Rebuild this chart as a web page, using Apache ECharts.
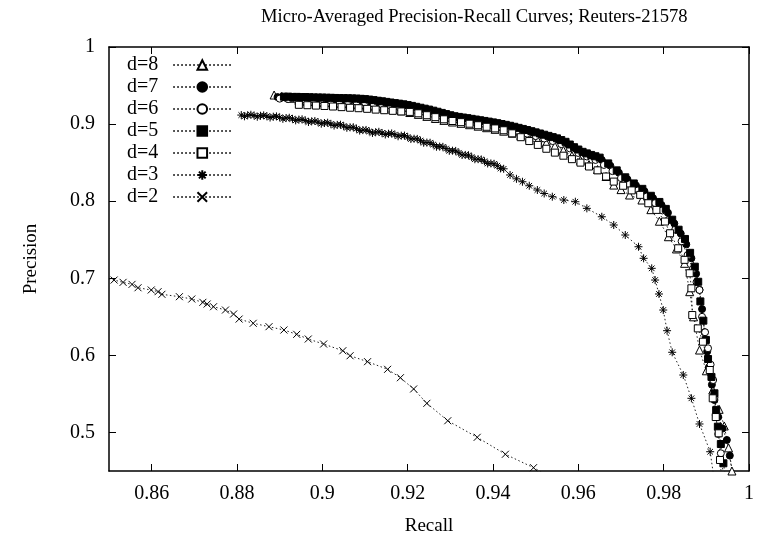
<!DOCTYPE html>
<html><head><meta charset="utf-8">
<script src="https://cdn.jsdelivr.net/npm/echarts@6/dist/echarts.min.js"></script>
<style>html,body{margin:0;padding:0;background:#fff}#c{width:757px;height:541px}</style>
</head><body><div id="c"></div>
<script>
const titleText = 'Micro-Averaged Precision-Recall Curves; Reuters-21578';
const xName = 'Recall';
const yName = 'Precision';
const xTicks = [0.86, 0.88, 0.9, 0.92, 0.94, 0.96, 0.98, 1];
const yTicks = [0.5, 0.6, 0.7, 0.8, 0.9, 1];
const seriesNames = ['d=8', 'd=7', 'd=6', 'd=5', 'd=4', 'd=3', 'd=2'];

const d8 = [[0.8887,0.9377],[0.8905,0.9360],[0.8925,0.9335],[0.8945,0.9310],[0.8965,0.9295],[0.8985,0.9285],[0.9005,0.9278],[0.9025,0.9272],[0.9045,0.9266],[0.9065,0.9258],[0.9085,0.9248],[0.9105,0.9236],[0.9125,0.9222],[0.9145,0.9207],[0.9165,0.9190],[0.9185,0.9172],[0.9205,0.9150],[0.9225,0.9126],[0.9245,0.9100],[0.9265,0.9073],[0.9285,0.9048],[0.9305,0.9027],[0.9325,0.9010],[0.9345,0.8992],[0.9365,0.8973],[0.9385,0.8953],[0.9405,0.8932],[0.9425,0.8908],[0.9445,0.8882],[0.9465,0.8854],[0.9485,0.8823],[0.9505,0.8790],[0.9525,0.8755],[0.9545,0.8715],[0.9565,0.8660],[0.9585,0.8590],[0.9605,0.8530],[0.9625,0.8475],[0.9645,0.8410],[0.9665,0.8320],[0.9683,0.8209],[0.9700,0.8150],[0.9720,0.8080],[0.9749,0.8015],[0.9770,0.7890],[0.9790,0.7740],[0.9811,0.7539],[0.9830,0.7380],[0.9849,0.7194],[0.9861,0.6826],[0.9870,0.6500],[0.9884,0.6069],[0.9900,0.5800],[0.9915,0.5550],[0.9930,0.5300],[0.9942,0.5084],[0.9952,0.4800],[0.9960,0.4500],[0.9965,0.4400]];

const d7 = [[0.8895,0.9350],[0.8905,0.9345],[0.8915,0.9340],[0.8925,0.9338],[0.8935,0.9336],[0.8945,0.9334],[0.8955,0.9333],[0.8965,0.9331],[0.8975,0.9330],[0.8985,0.9328],[0.8995,0.9327],[0.9005,0.9325],[0.9015,0.9323],[0.9025,0.9322],[0.9035,0.9320],[0.9045,0.9318],[0.9055,0.9316],[0.9065,0.9314],[0.9075,0.9311],[0.9085,0.9307],[0.9095,0.9303],[0.9105,0.9297],[0.9115,0.9291],[0.9125,0.9284],[0.9135,0.9277],[0.9145,0.9270],[0.9155,0.9262],[0.9165,0.9254],[0.9175,0.9246],[0.9185,0.9238],[0.9195,0.9230],[0.9205,0.9219],[0.9215,0.9208],[0.9225,0.9197],[0.9235,0.9185],[0.9245,0.9173],[0.9255,0.9160],[0.9265,0.9146],[0.9275,0.9132],[0.9285,0.9118],[0.9295,0.9105],[0.9305,0.9094],[0.9315,0.9083],[0.9325,0.9075],[0.9335,0.9066],[0.9345,0.9057],[0.9355,0.9048],[0.9365,0.9039],[0.9375,0.9030],[0.9385,0.9020],[0.9395,0.9010],[0.9405,0.9000],[0.9415,0.8990],[0.9425,0.8979],[0.9435,0.8968],[0.9445,0.8956],[0.9455,0.8943],[0.9465,0.8929],[0.9475,0.8915],[0.9485,0.8901],[0.9495,0.8886],[0.9505,0.8871],[0.9515,0.8855],[0.9525,0.8839],[0.9535,0.8823],[0.9545,0.8806],[0.9555,0.8788],[0.9565,0.8765],[0.9575,0.8740],[0.9585,0.8708],[0.9595,0.8675],[0.9605,0.8648],[0.9615,0.8620],[0.9625,0.8600],[0.9635,0.8580],[0.9645,0.8558],[0.9655,0.8535],[0.9675,0.8460],[0.9695,0.8370],[0.9715,0.8285],[0.9735,0.8205],[0.9755,0.8130],[0.9775,0.8040],[0.9795,0.7950],[0.9810,0.7850],[0.9825,0.7710],[0.9840,0.7580],[0.9853,0.7440],[0.9865,0.7260],[0.9876,0.7060],[0.9884,0.6850],[0.9890,0.6600],[0.9896,0.6300],[0.9902,0.6050],[0.9906,0.5845],[0.9913,0.5620],[0.9919,0.5421],[0.9928,0.5200],[0.9938,0.5050],[0.9948,0.4902],[0.9955,0.4700],[0.9962,0.4450]];

const d6 = [[0.8900,0.9330],[0.8920,0.9325],[0.8940,0.9320],[0.8960,0.9316],[0.8980,0.9312],[0.9000,0.9308],[0.9020,0.9304],[0.9040,0.9300],[0.9060,0.9296],[0.9080,0.9290],[0.9100,0.9280],[0.9120,0.9266],[0.9140,0.9251],[0.9160,0.9236],[0.9180,0.9220],[0.9200,0.9203],[0.9220,0.9180],[0.9240,0.9156],[0.9260,0.9130],[0.9280,0.9102],[0.9300,0.9076],[0.9320,0.9055],[0.9340,0.9037],[0.9360,0.9019],[0.9380,0.9000],[0.9400,0.8980],[0.9420,0.8958],[0.9440,0.8933],[0.9460,0.8905],[0.9480,0.8876],[0.9500,0.8845],[0.9520,0.8813],[0.9540,0.8780],[0.9560,0.8740],[0.9580,0.8685],[0.9600,0.8625],[0.9620,0.8580],[0.9640,0.8535],[0.9660,0.8470],[0.9680,0.8390],[0.9700,0.8300],[0.9720,0.8220],[0.9740,0.8140],[0.9760,0.8060],[0.9780,0.7975],[0.9797,0.7880],[0.9812,0.7760],[0.9827,0.7630],[0.9842,0.7480],[0.9856,0.7300],[0.9868,0.7120],[0.9877,0.6950],[0.9884,0.6848],[0.9890,0.6500],[0.9897,0.6300],[0.9904,0.6092],[0.9910,0.5880],[0.9916,0.5680],[0.9919,0.5450],[0.9922,0.5226],[0.9928,0.4980],[0.9934,0.4730],[0.9940,0.4450]];

const d5 = [[0.8910,0.9355],[0.8920,0.9356],[0.8930,0.9352],[0.8940,0.9353],[0.8950,0.9350],[0.8960,0.9351],[0.8970,0.9348],[0.8980,0.9346],[0.8990,0.9345],[0.9000,0.9344],[0.9010,0.9342],[0.9020,0.9341],[0.9030,0.9339],[0.9040,0.9337],[0.9050,0.9336],[0.9060,0.9335],[0.9070,0.9333],[0.9080,0.9331],[0.9090,0.9328],[0.9100,0.9324],[0.9110,0.9318],[0.9120,0.9311],[0.9130,0.9303],[0.9140,0.9296],[0.9150,0.9288],[0.9160,0.9280],[0.9170,0.9272],[0.9180,0.9265],[0.9190,0.9257],[0.9200,0.9247],[0.9210,0.9236],[0.9220,0.9224],[0.9230,0.9212],[0.9240,0.9200],[0.9250,0.9188],[0.9260,0.9174],[0.9270,0.9160],[0.9280,0.9145],[0.9290,0.9130],[0.9300,0.9115],[0.9310,0.9102],[0.9320,0.9093],[0.9330,0.9085],[0.9340,0.9077],[0.9350,0.9068],[0.9360,0.9059],[0.9370,0.9050],[0.9380,0.9041],[0.9390,0.9032],[0.9400,0.9022],[0.9410,0.9012],[0.9420,0.9001],[0.9430,0.8990],[0.9440,0.8978],[0.9450,0.8965],[0.9460,0.8951],[0.9470,0.8937],[0.9480,0.8923],[0.9490,0.8908],[0.9500,0.8893],[0.9510,0.8878],[0.9520,0.8862],[0.9530,0.8847],[0.9540,0.8831],[0.9550,0.8815],[0.9560,0.8793],[0.9570,0.8770],[0.9580,0.8735],[0.9590,0.8700],[0.9600,0.8670],[0.9610,0.8640],[0.9620,0.8620],[0.9630,0.8600],[0.9640,0.8583],[0.9650,0.8565],[0.9670,0.8490],[0.9690,0.8400],[0.9710,0.8310],[0.9730,0.8230],[0.9750,0.8160],[0.9770,0.8070],[0.9790,0.7990],[0.9805,0.7900],[0.9820,0.7760],[0.9835,0.7630],[0.9850,0.7510],[0.9862,0.7330],[0.9873,0.7150],[0.9881,0.6955],[0.9886,0.6700],[0.9893,0.6450],[0.9899,0.6200],[0.9904,0.5953],[0.9912,0.5720],[0.9919,0.5508],[0.9923,0.5290],[0.9927,0.5075],[0.9934,0.4850],[0.9940,0.4600],[0.9946,0.4400]];

const d4 = [[0.8945,0.9250],[0.8965,0.9245],[0.8985,0.9240],[0.9005,0.9235],[0.9025,0.9228],[0.9045,0.9220],[0.9065,0.9212],[0.9085,0.9206],[0.9105,0.9198],[0.9125,0.9188],[0.9145,0.9180],[0.9165,0.9172],[0.9185,0.9164],[0.9205,0.9158],[0.9225,0.9140],[0.9245,0.9115],[0.9265,0.9090],[0.9285,0.9062],[0.9305,0.9040],[0.9325,0.9025],[0.9345,0.9005],[0.9365,0.8985],[0.9385,0.8965],[0.9405,0.8944],[0.9425,0.8920],[0.9445,0.8880],[0.9465,0.8830],[0.9485,0.8780],[0.9505,0.8730],[0.9525,0.8680],[0.9545,0.8630],[0.9565,0.8590],[0.9585,0.8545],[0.9605,0.8500],[0.9625,0.8450],[0.9645,0.8400],[0.9665,0.8320],[0.9683,0.8254],[0.9705,0.8200],[0.9725,0.8140],[0.9745,0.8082],[0.9764,0.7973],[0.9783,0.7887],[0.9803,0.7736],[0.9815,0.7584],[0.9834,0.7389],[0.9849,0.7239],[0.9861,0.7065],[0.9865,0.6870],[0.9867,0.6523],[0.9880,0.6350],[0.9892,0.6177],[0.9908,0.5810],[0.9915,0.5443],[0.9922,0.5200],[0.9929,0.4989],[0.9932,0.4643],[0.9936,0.4400]];

const d3 = [[0.8810,0.9117],[0.88175,0.9101],[0.8825,0.9115],[0.88325,0.9121],[0.8840,0.9112],[0.88475,0.9095],[0.8855,0.9108],[0.88625,0.9113],[0.8870,0.9103],[0.88775,0.9085],[0.8885,0.9096],[0.88925,0.9100],[0.8900,0.9088],[0.89075,0.9068],[0.8915,0.9078],[0.89225,0.9082],[0.8930,0.9068],[0.89375,0.9048],[0.8945,0.9058],[0.89525,0.9062],[0.8960,0.9047],[0.89675,0.9027],[0.8975,0.9036],[0.89825,0.9040],[0.8990,0.9025],[0.89975,0.9005],[0.9005,0.9014],[0.90125,0.9018],[0.9020,0.9002],[0.90275,0.8981],[0.9035,0.8990],[0.90425,0.8992],[0.9050,0.8975],[0.90575,0.8952],[0.9065,0.8958],[0.90725,0.8959],[0.9080,0.8940],[0.90875,0.8916],[0.9095,0.8922],[0.91025,0.8924],[0.9110,0.8905],[0.91175,0.8885],[0.9125,0.8895],[0.91325,0.8900],[0.9140,0.8885],[0.91475,0.8865],[0.9155,0.8875],[0.91625,0.8879],[0.9170,0.8863],[0.91775,0.8842],[0.9185,0.8850],[0.91925,0.8851],[0.9200,0.8832],[0.92075,0.8806],[0.9215,0.8810],[0.92225,0.8808],[0.9230,0.8785],[0.92375,0.8758],[0.9245,0.8760],[0.92525,0.8758],[0.9260,0.8735],[0.92675,0.8706],[0.9275,0.8708],[0.92825,0.8705],[0.9290,0.8682],[0.92975,0.8653],[0.9305,0.8655],[0.93125,0.8652],[0.9320,0.8628],[0.93275,0.8599],[0.9335,0.8600],[0.93425,0.8596],[0.9350,0.8572],[0.93575,0.8544],[0.9365,0.8545],[0.93725,0.8541],[0.9380,0.8518],[0.93875,0.8489],[0.9395,0.8490],[0.94025,0.8485],[0.9410,0.8460],[0.94175,0.8425],[0.9425,0.8420],[0.9440,0.8340],[0.9455,0.8290],[0.9469,0.8252],[0.9485,0.8200],[0.9504,0.8145],[0.9520,0.8100],[0.9539,0.8058],[0.9566,0.8015],[0.9593,0.7993],[0.9620,0.7907],[0.9655,0.7798],[0.9683,0.7691],[0.9710,0.7561],[0.9741,0.7409],[0.9753,0.7259],[0.9772,0.7129],[0.9780,0.6977],[0.9789,0.6796],[0.9799,0.6588],[0.9808,0.6320],[0.9820,0.6040],[0.9846,0.5745],[0.9865,0.5443],[0.9884,0.5110],[0.9909,0.4750],[0.9918,0.4400]];

const d2 = [[0.8490,0.7000],[0.8512,0.6977],[0.8533,0.6947],[0.8554,0.6921],[0.8568,0.6877],[0.8599,0.6848],[0.8615,0.6826],[0.8624,0.6792],[0.8665,0.6761],[0.8694,0.6731],[0.8720,0.6688],[0.8730,0.6666],[0.8745,0.6631],[0.8773,0.6588],[0.8792,0.6536],[0.8805,0.6471],[0.8838,0.6416],[0.8875,0.6372],[0.8910,0.6329],[0.8940,0.6273],[0.8967,0.6212],[0.9003,0.6147],[0.9048,0.6060],[0.9065,0.5995],[0.9106,0.5918],[0.9153,0.5819],[0.9183,0.5710],[0.9214,0.5564],[0.9245,0.5378],[0.9294,0.5152],[0.9363,0.4937],[0.9429,0.4717],[0.9495,0.4543],[0.9560,0.4350]];

const seriesData = [d8, d7, d6, d5, d4, d3, d2];

const SERIF = 'Liberation Serif';
const symbols = [
  {symbol: 'triangle', size: 8, fill: '#fff'},
  {symbol: 'circle', size: 7, fill: '#000'},
  {symbol: 'circle', size: 7, fill: '#fff'},
  {symbol: 'rect', size: 7, fill: '#000'},
  {symbol: 'rect', size: 7, fill: '#fff'},
  {symbol: 'path://M0,5L10,5M5,0L5,10M1.5,1.5L8.5,8.5M1.5,8.5L8.5,1.5', size: 8, fill: 'rgba(0,0,0,0)'},
  {symbol: 'path://M0,0L10,10M0,10L10,0', size: 7, fill: 'rgba(0,0,0,0)'}
];

const chart = echarts.init(document.getElementById('c'), null, {renderer: 'canvas'});
const series = seriesNames.map((n, i) => ({
  name: n,
  type: 'line',
  data: seriesData[i],
  symbol: symbols[i].symbol,
  symbolSize: symbols[i].size,
  showAllSymbol: true,
  clip: true,
  animation: false,
  lineStyle: {color: '#222', width: 1, type: [1.5, 2.5]},
  itemStyle: {color: symbols[i].fill, borderColor: '#000', borderWidth: 1},
  emphasis: {disabled: true}
}));

const axisCommon = {
  axisLine: {show: true, lineStyle: {color: '#000', width: 1.5}},
  splitLine: {show: false}
};

chart.setOption({
  animation: false,
  title: {
    text: titleText, left: 256, top: 3,
    textStyle: {fontFamily: SERIF, fontWeight: 'normal', fontSize: 18.6, color: '#000'}
  },
  grid: {left: 109, top: 47, right: 4, bottom: 70, containLabel: false},
  legend: {
    data: seriesNames, left: 122, top: 50, orient: 'vertical', align: 'right',
    itemWidth: 58, itemHeight: 12, itemGap: 2,
    textStyle: {fontFamily: SERIF, fontSize: 20, color: '#000', lineHeight: 20, padding: [0, 10, 0, 0]},
    selectedMode: false
  },
  xAxis: [{
    type: 'value', min: 0.85, max: 1, position: 'bottom',
    name: xName, nameLocation: 'middle', nameGap: 46,
    nameTextStyle: {fontFamily: SERIF, fontSize: 19, color: '#000'},
    axisTick: {show: true, inside: true, length: 7, customValues: xTicks, lineStyle: {color: '#000'}},
    axisLabel: {customValues: xTicks, fontFamily: SERIF, fontSize: 20, color: '#000', margin: 13},
    ...axisCommon
  }, {
    type: 'value', min: 0.85, max: 1, position: 'top',
    axisTick: {show: true, inside: true, length: 7, customValues: xTicks, lineStyle: {color: '#000'}},
    axisLabel: {show: false},
    ...axisCommon
  }],
  yAxis: [{
    type: 'value', min: 0.45, max: 1, position: 'left',
    name: yName, nameLocation: 'middle', nameGap: 68, nameRotate: 90,
    nameTextStyle: {fontFamily: SERIF, fontSize: 19, color: '#000'},
    axisTick: {show: true, inside: true, length: 7, customValues: yTicks, lineStyle: {color: '#000'}},
    axisLabel: {customValues: yTicks, fontFamily: SERIF, fontSize: 20, color: '#000', margin: 14},
    ...axisCommon
  }, {
    type: 'value', min: 0.45, max: 1, position: 'right',
    axisTick: {show: true, inside: true, length: 7, customValues: yTicks, lineStyle: {color: '#000'}},
    axisLabel: {show: false},
    ...axisCommon
  }],
  series: series
});
</script>
</body></html>
